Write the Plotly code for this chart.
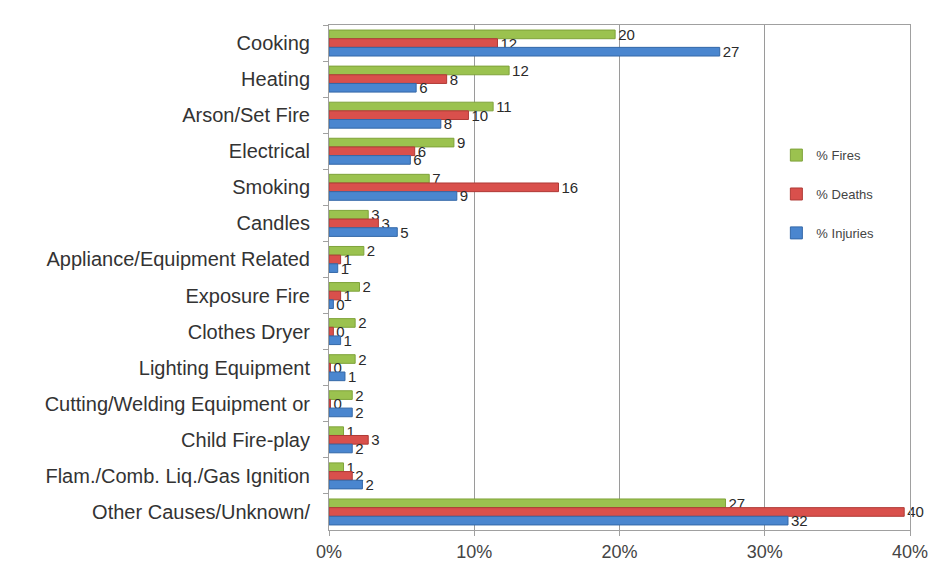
import plotly.graph_objects as go

categories = [
    "Cooking", "Heating", "Arson/Set Fire", "Electrical", "Smoking", "Candles",
    "Appliance/Equipment Related", "Exposure Fire", "Clothes Dryer",
    "Lighting Equipment", "Cutting/Welding Equipment or", "Child Fire-play",
    "Flam./Comb. Liq./Gas Ignition", "Other Causes/Unknown/",
]
pct_fires = [19.7, 12.4, 11.3, 8.6, 6.9, 2.7, 2.4, 2.1, 1.8, 1.8, 1.6, 1.0, 1.0, 27.3]
pct_deaths = [11.6, 8.1, 9.6, 5.9, 15.8, 3.4, 0.8, 0.8, 0.3, 0.1, 0.1, 2.7, 1.6, 39.6]
pct_injuries = [26.9, 6.0, 7.7, 5.6, 8.8, 4.7, 0.6, 0.3, 0.8, 1.1, 1.6, 1.6, 2.3, 31.6]

series = [
    ("% Fires", pct_fires, "#9bc24f", "#7fa33a"),
    ("% Deaths", pct_deaths, "#d9504c", "#b03a36"),
    ("% Injuries", pct_injuries, "#4a86cf", "#3468a8"),
]

fig = go.Figure()
for i, (name, vals, col, edge) in enumerate(series):
    fig.add_trace(go.Bar(
        y=categories, x=vals, name=name, orientation="h",
        marker=dict(color=col, line=dict(color=edge, width=1)),
        texttemplate="%{x:.0f}", textposition="outside", cliponaxis=False,
        textfont=dict(family="Liberation Sans, Arial, sans-serif", size=15, color="#2a2a2a"),
        legendgroup=name,
    ))

fig.update_layout(
    width=940, height=574,
    margin=dict(l=329, r=30, t=25, b=41),
    paper_bgcolor="white", plot_bgcolor="white",
    barmode="group", bargap=0.28, bargroupgap=0,
    font=dict(family="Liberation Sans, Arial, sans-serif", color="#333333"),
    legend=dict(
        x=0.77, y=0.772, xanchor="left", yanchor="top",
        bgcolor="rgba(0,0,0,0)", tracegroupgap=19,
        font=dict(size=13, color="#444444"),
        itemwidth=30,
    ),
    uniformtext=dict(minsize=10, mode="show"),
)
fig.update_xaxes(
    range=[0, 40], dtick=10, ticksuffix="%",
    showgrid=True, gridcolor="#9a9a9a", gridwidth=1,
    showline=True, linecolor="#a0a0a0", mirror=True,
    ticks="outside", ticklen=5, tickcolor="#a0a0a0",
    tickfont=dict(size=18, color="#444444"), zeroline=False,
)
fig.update_yaxes(
    autorange="reversed", categoryorder="array", categoryarray=categories,
    showline=True, linecolor="#a0a0a0", mirror=True,
    ticks="outside", ticklen=5, tickcolor="#a0a0a0", tickson="boundaries",
    ticklabelstandoff=14,
    tickfont=dict(size=20, color="#333333"), showgrid=False,
)

fig.write_html("out.html")
